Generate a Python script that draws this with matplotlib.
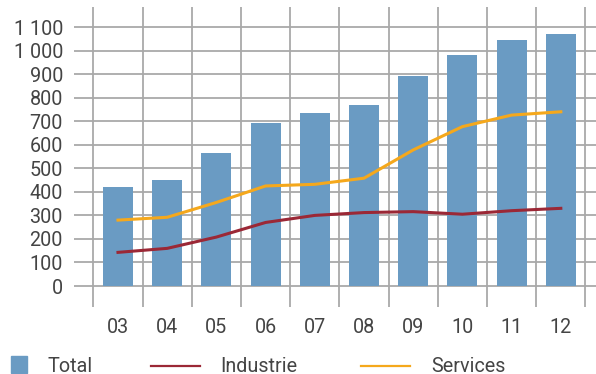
import numpy as np
import matplotlib
matplotlib.use("Agg")
import matplotlib.pyplot as plt
from matplotlib.lines import Line2D
from matplotlib.patches import Rectangle

# Daten
jahre = ["03", "04", "05", "06", "07", "08", "09", "10", "11", "12"]
total = [420, 450, 565, 692, 735, 769, 892, 981, 1045, 1070]
industrie = [143, 160, 208, 270, 300, 312, 316, 305, 320, 330]
services = [280, 292, 355, 425, 432, 458, 578, 677, 726, 740]
y_ticks = [0, 100, 200, 300, 400, 500, 600, 700, 800, 900, 1000, 1100]
y_labels = ["0", "100", "200", "300", "400", "500", "600", "700", "800", "900", "1 000", "1 100"]

c_total = "#6a9bc3"
c_ind = "#9b2836"
c_serv = "#f5a81c"
c_grid = "#a9a9a9"
c_text = "#444444"
fs = 14.2

plt.rcParams["font.family"] = ["Roboto", "DejaVu Sans"]

W, H = 596, 374
fig = plt.figure(figsize=(W / 100, H / 100), dpi=100)
ax = fig.add_axes([74 / W, 1 - 307 / H, 1 - 74 / W, 300 / H])

x = np.arange(len(jahre))
ax.bar(x, total, width=0.61, color=c_total, zorder=2)
ax.plot(x, industrie, color=c_ind, lw=2.2, zorder=3)
ax.plot(x, services, color=c_serv, lw=2.2, zorder=3)

ax.set_xlim(-0.894, 9.715)
ax.set_ylim(-89, 1185)

# Gitter
ax.set_yticks(y_ticks)
ax.set_yticklabels(y_labels)
ax.set_xticks(x)
ax.set_xticklabels(jahre)
ax.set_xticks(np.arange(len(jahre) + 1) - 0.5, minor=True)
ax.grid(axis="y", which="major", color=c_grid, lw=1.3, zorder=0)
ax.grid(axis="x", which="minor", color=c_grid, lw=1.3, zorder=0)
ax.set_axisbelow(True)

for s in ax.spines.values():
    s.set_visible(False)
ax.tick_params(axis="both", which="both", length=0)
ax.tick_params(axis="y", pad=8, labelsize=fs, labelcolor=c_text)
ax.tick_params(axis="x", pad=8, labelsize=fs, labelcolor=c_text)

# Legende
ly = 1 - 366 / H
fig.patches.append(Rectangle((11 / W, 1 - 374 / H + 1 / H), 16 / W, 17 / H,
                             transform=fig.transFigure, color=c_total))
fig.text(47 / W, ly, "Total", fontsize=fs, color=c_text, va="center")
fig.lines.append(Line2D([151 / W, 200 / W], [ly, ly], transform=fig.transFigure, color=c_ind, lw=1.6))
fig.text(220 / W, ly, "Industrie", fontsize=fs, color=c_text, va="center")
fig.lines.append(Line2D([361 / W, 410 / W], [ly, ly], transform=fig.transFigure, color=c_serv, lw=1.6))
fig.text(431 / W, ly, "Services", fontsize=fs, color=c_text, va="center")

fig.savefig("out.png", dpi=100)
